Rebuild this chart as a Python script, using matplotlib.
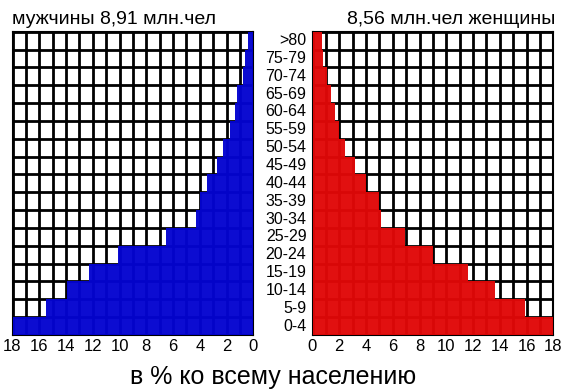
import numpy as np
import matplotlib
matplotlib.use("Agg")
import matplotlib.pyplot as plt

# ---- data ----
age_groups = ["0-4", "5-9", "10-14", "15-19", "20-24", "25-29", "30-34", "35-39",
              "40-44", "45-49", "50-54", "55-59", "60-64", "65-69", "70-74", "75-79", ">80"]
men = [18.0, 15.5, 13.9, 12.25, 10.1, 6.5, 4.25, 4.0,
       3.45, 2.75, 2.25, 1.75, 1.4, 1.2, 0.75, 0.62, 0.37]
women = [18.0, 15.9, 13.65, 11.65, 9.0, 6.9, 5.15, 4.95,
         4.0, 3.15, 2.4, 2.0, 1.65, 1.4, 1.05, 0.75, 0.68]
xticks = list(range(0, 19, 2))
title_men = "мужчины 8,91 млн.чел"
title_women = "8,56 млн.чел женщины"
xlabel = "в % ко всему населению"

narrow = ["Liberation Sans Narrow", "Liberation Sans", "DejaVu Sans"]
regular = ["Liberation Sans", "DejaVu Sans"]

W, H = 564, 391
fig = plt.figure(figsize=(W / 100, H / 100), dpi=100)
fig.patch.set_facecolor("white")

def frac(x0, y0, x1, y1):
    return [x0 / W, 1 - y1 / H, (x1 - x0) / W, (y1 - y0) / H]

axL = fig.add_axes(frac(12.5, 31.7, 253.3, 335))
axR = fig.add_axes(frac(312.5, 31.7, 553.3, 335))

y = np.arange(len(age_groups))
for ax, vals, col in ((axL, men, "#0404d0"), (axR, women, "#e00808")):
    ax.barh(y, vals, height=1.0, left=0, color=col, alpha=0.97, zorder=3, linewidth=0)
    ax.set_ylim(-0.5, len(age_groups) - 0.5)
    ax.set_xticks(xticks)
    ax.set_xticks(range(0, 19), minor=True)
    ax.set_yticks([])
    ax.set_yticks(np.arange(-0.5, len(age_groups), 1), minor=True)
    ax.set_axisbelow(True)
    ax.grid(which="both", color="black", linewidth=2.0)
    ax.tick_params(which="both", length=0, pad=3)
    ax.set_xticklabels([str(t) for t in xticks], family=narrow, fontsize=12)
    for s in ax.spines.values():
        s.set_color("black")
        s.set_linewidth(1.5)
    ax.set_facecolor("white")

axL.set_xlim(18, 0)
axR.set_xlim(0, 18)

# age labels in the middle
for i, lab in enumerate(age_groups):
    axR.annotate(lab, xy=(0, i), xycoords=("axes fraction", "data"),
                 xytext=(-6, 0), textcoords="offset pixels",
                 ha="right", va="center", family=narrow, fontsize=11.5)

fig.text(12 / W, 1 - 19 / H, title_men, ha="left", va="center",
         family=regular, fontsize=14)
fig.text(555 / W, 1 - 19 / H, title_women, ha="right", va="center",
         family=regular, fontsize=14)
fig.text(273 / W, 1 - 377 / H, xlabel, ha="center", va="center",
         family=regular, fontsize=18)

fig.savefig("out.png", dpi=100, facecolor="white")
